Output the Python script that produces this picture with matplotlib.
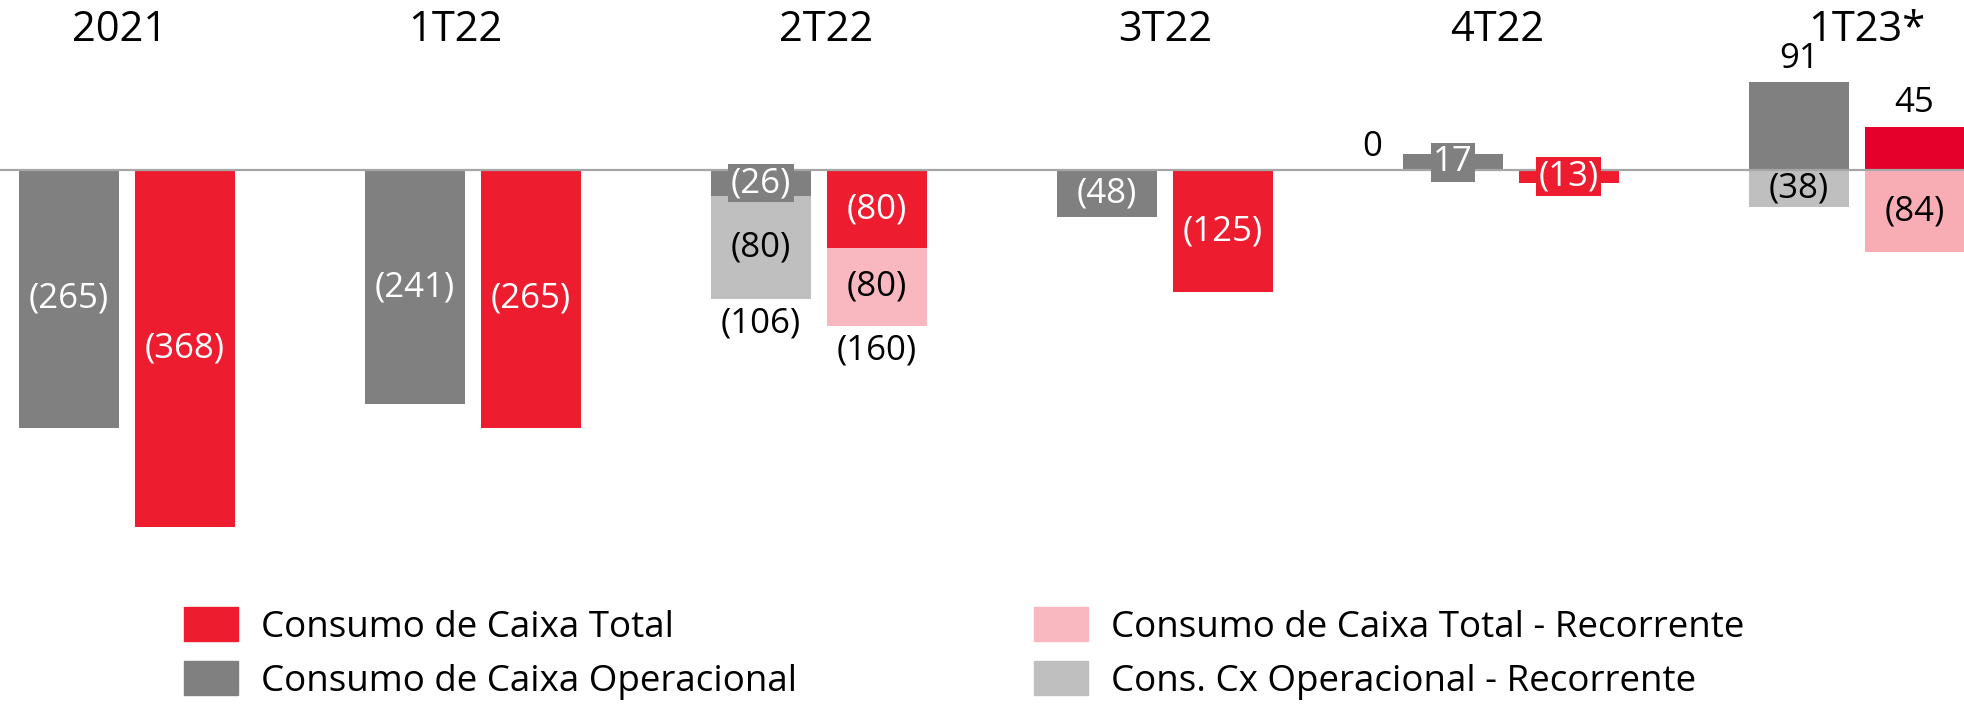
import matplotlib
matplotlib.use('Agg')
import matplotlib.pyplot as plt
from matplotlib.patches import Patch
import numpy as np

# dados (R$ mi)
periodos = ['2021', '1T22', '2T22', '3T22', '4T22', '1T23*']
operacional = [-265, -241, -26, -48, 17, 91]
operacional_rec = [0, 0, -106, 0, 0, -38]
total = [-368, -265, -80, -125, -13, 45]
total_rec = [0, 0, -80, 0, 0, -84]

rot_operacional = ['(265)', '(241)', '(26)', '(48)', '17', '91']
rot_operacional_rec = ['', '', '(80)', '', '', '(38)']
rot_total = ['(368)', '(265)', '(80)', '(125)', '(13)', '45']
rot_total_rec = ['', '', '(80)', '', '', '(84)']
rot_soma_operacional = ['', '', '(106)', '', '', '']
rot_soma_total = ['', '', '(160)', '', '', '']

# onde fica o rotulo: dentro, caixa sobre a barra, acima
pos_operacional = ['in', 'in', 'box', 'in', 'box', 'above']
pos_total = ['in', 'in', 'in', 'in', 'box', 'above']
# deslocamento horizontal dos titulos dos periodos
desloc_periodo = [-0.02, -0.05, 0.02, 0.0, -0.04, 0.03]

cinza = '#808080'
cinza_claro = '#BFBFBF'
vermelho = ['#ED1C2E'] * 5 + ['#E4002B']
rosa = ['#F9B8C0'] * 5 + ['#F8ADB5']

fonte = ['Open Sans', 'DejaVu Sans']

fig = plt.figure(figsize=(19.65, 7.05), dpi=100)
ax = fig.add_axes([0, 0, 1, 1])
ax.axis('off')

x = np.arange(len(periodos))
w = 0.289
dx = 0.167
xg = x - dx
xr = x + dx

op = np.array(operacional)
opr = np.array(operacional_rec)
tt = np.array(total)
ttr = np.array(total_rec)
base_opr = np.where((op < 0) & (opr < 0), op, 0)
base_ttr = np.where((tt < 0) & (ttr < 0), tt, 0)

b_op = ax.bar(xg, op, w, color=cinza, zorder=2)
b_opr = ax.bar(xg, opr, w, bottom=base_opr, color=cinza_claro, zorder=2)
b_tt = ax.bar(xr, tt, w, color=vermelho, zorder=2)
b_ttr = ax.bar(xr, ttr, w, bottom=base_ttr, color=rosa, zorder=2)

ax.axhline(0, color='#A6A6A6', lw=1.6, zorder=3)

fs_val = 25


def rotular(barras, textos, posicoes, cores, cor_txt):
    for b, t, p, c in zip(barras, textos, posicoes, cores):
        if not t:
            continue
        cx = b.get_x() + b.get_width() / 2
        cy = b.get_y() + b.get_height() / 2
        if p == 'in':
            ax.text(cx, cy, t, ha='center', va='center', color=cor_txt,
                    fontsize=fs_val, family=fonte, zorder=5)
        elif p == 'box':
            ax.text(cx, cy, t, ha='center', va='center', color='white',
                    fontsize=fs_val, family=fonte, zorder=5,
                    bbox=dict(boxstyle='square,pad=0.07', fc=c, ec='none'))
        else:
            top = b.get_y() + b.get_height()
            ax.annotate(t, (cx, top), xytext=(0, 17), textcoords='offset points',
                        ha='center', va='center', color='black',
                        fontsize=fs_val, family=fonte, zorder=5)


rotular(b_op, rot_operacional, pos_operacional, [cinza] * 6, 'white')
rotular(b_tt, rot_total, pos_total, vermelho, 'white')
rotular(b_opr, rot_operacional_rec, ['in'] * 6, [cinza_claro] * 6, 'black')
rotular(b_ttr, rot_total_rec, ['in'] * 6, rosa, 'black')

# somas abaixo das barras empilhadas
for barras, textos in [(b_opr, rot_soma_operacional), (b_ttr, rot_soma_total)]:
    for b, t in zip(barras, textos):
        if t:
            cx = b.get_x() + b.get_width() / 2
            fundo = min(b.get_y(), b.get_y() + b.get_height())
            ax.annotate(t, (cx, fundo), xytext=(0, -18), textcoords='offset points',
                        ha='center', va='center', color='black',
                        fontsize=fs_val, family=fonte)

# rotulo "0" do 4T22
ax.annotate('0', (xg[4] - 0.234, 0), xytext=(0, 17), textcoords='offset points',
            ha='center', va='center', color='black', fontsize=fs_val, family=fonte)

# periodos no topo
for xi, d, p in zip(x, desloc_periodo, periodos):
    ax.text(xi + d, 0.958, p, transform=ax.get_xaxis_transform(), ha='center',
            va='center', fontsize=30, family=fonte, color='black')

ax.set_xlim(-0.3665, 5.3127)
ax.set_ylim(-551, 175.7)

kw = dict(frameon=False, handlelength=1.47, handleheight=1.03,
          handletextpad=0.62, labelspacing=0.43, borderpad=0, borderaxespad=0,
          prop={'family': fonte, 'size': 26.5})
fig.legend(handles=[Patch(color=vermelho[0], label='Consumo de Caixa Total'),
                    Patch(color=cinza, label='Consumo de Caixa Operacional')],
           loc='center left', bbox_to_anchor=(184 / 1965, 0.073), **kw)
fig.legend(handles=[Patch(color=rosa[0], label='Consumo de Caixa Total - Recorrente'),
                    Patch(color=cinza_claro, label='Cons. Cx Operacional - Recorrente')],
           loc='center left', bbox_to_anchor=(1034 / 1965, 0.073), **kw)

fig.savefig('out.png', dpi=100)
